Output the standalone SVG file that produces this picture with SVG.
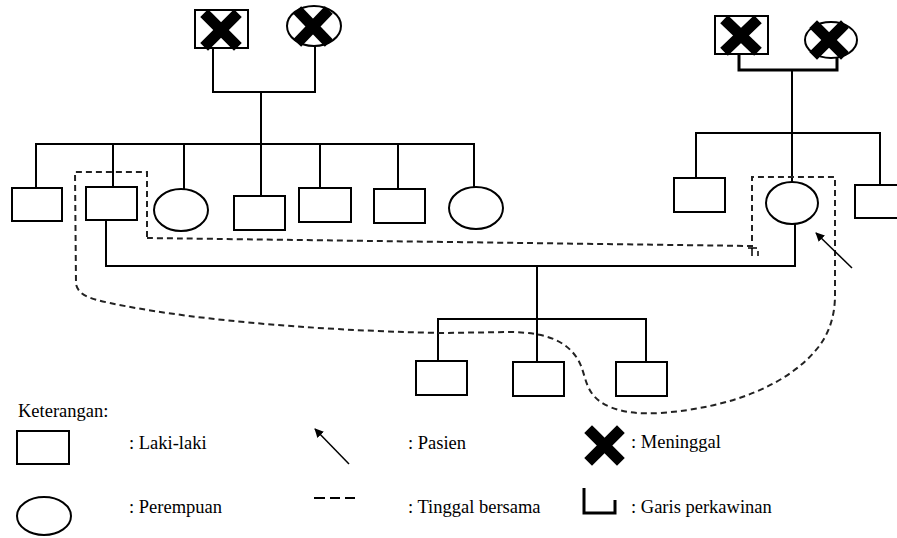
<svg xmlns="http://www.w3.org/2000/svg" width="897" height="538" viewBox="0 0 897 538">
<defs>
<style>
.n{fill:#fff;stroke:#000;stroke-width:2}
.l{fill:none;stroke:#000;stroke-width:2}
.m{fill:none;stroke:#000;stroke-width:3}
.d{fill:none;stroke:#222;stroke-width:2;stroke-dasharray:6 4}
.x{stroke:#000;stroke-width:11;stroke-linecap:square}
.t{font-family:"Liberation Serif","Times New Roman",serif;font-size:18.5px;fill:#000}
</style>
<marker id="ah" viewBox="0 0 10 10" refX="9" refY="5" markerWidth="9" markerHeight="9" markerUnits="userSpaceOnUse" orient="auto">
<path d="M0,0 L10,5 L0,10 z" fill="#000"/>
</marker>
</defs>
<rect width="897" height="538" fill="#fff"/>
<g id="connectors">
<path class="l" d="M213,48 V92 H315 V46 M261,92 V145"/>
<path class="l" d="M36,188 V144 H474 V187 M113,144 V187 M184,144 V189 M261,144 V196 M320,144 V188 M398,144 V189"/>
<path class="m" d="M739,54 V70 H837 V58"/>
<path class="l" d="M792,70 V133 M696,178 V133 H880 V190 M792,133 V182"/>
<path class="l" d="M106,220 V266 H795 V224 M537,266 V365 M438,361 V319 H646 V362"/>
<path class="d" d="M147,238 C300,240 600,244 752,246 V177 H835 V295 C835,310 832,328 820,345 C790,385 730,408 660,413 C640,414 625,413 610,407 C582,395 588,375 577,358 C565,340 545,333 513,332 L440,333 C300,330 180,318 110,303 C90,299 78,295 76,284 L75,172 H147 Z"/>
<path d="M748,248 H757 M752,248 V256 M758,251 V256" fill="none" stroke="#000" stroke-width="1.5"/>
<line x1="852" y1="268" x2="816" y2="233" stroke="#000" stroke-width="1.5" marker-end="url(#ah)"/>
</g>
<g id="gf-left"><rect class="n" x="195" y="10" width="53" height="38"/><line class="x" x1="208" y1="17" x2="234" y2="43"/><line class="x" x1="234" y1="17" x2="208" y2="43"/></g>
<g id="gm-left"><ellipse class="n" cx="314" cy="26" rx="27" ry="20"/><line class="x" x1="301" y1="14" x2="325" y2="39"/><line class="x" x1="325" y1="14" x2="301" y2="39"/></g>
<g id="gf-right"><rect class="n" x="715" y="16" width="53" height="38"/><line class="x" x1="728" y1="23" x2="754" y2="48"/><line class="x" x1="754" y1="23" x2="728" y2="48"/></g>
<g id="gm-right"><ellipse class="n" cx="831" cy="40" rx="26" ry="18"/><line class="x" x1="817" y1="28" x2="841" y2="52"/><line class="x" x1="841" y1="28" x2="817" y2="52"/></g>
<g id="c1"><rect class="n" x="12" y="188" width="50" height="33"/></g>
<g id="c2"><rect class="n" x="86" y="187" width="51" height="33"/></g>
<g id="c3"><ellipse class="n" cx="181" cy="210" rx="27" ry="21"/></g>
<g id="c4"><rect class="n" x="234" y="196" width="51" height="34"/></g>
<g id="c5"><rect class="n" x="299" y="188" width="52" height="34"/></g>
<g id="c6"><rect class="n" x="374" y="189" width="51" height="34"/></g>
<g id="c7"><ellipse class="n" cx="476" cy="208" rx="27" ry="21"/></g>
<g id="r1"><rect class="n" x="674" y="178" width="51" height="34"/></g>
<g id="r2"><ellipse class="n" cx="792" cy="203" rx="26" ry="21"/></g>
<g id="r3"><rect class="n" x="855" y="185" width="50" height="33"/></g>
<g id="g1"><rect class="n" x="416" y="361" width="51" height="34"/></g>
<g id="g2"><rect class="n" x="513" y="362" width="51" height="34"/></g>
<g id="g3"><rect class="n" x="616" y="362" width="51" height="34"/></g>
<g id="legend">
<text class="t" x="18" y="417">Keterangan:</text>
<rect class="n" x="17" y="431" width="52" height="33"/>
<text class="t" x="129" y="449">: Laki-laki</text>
<ellipse class="n" cx="44" cy="516" rx="27" ry="19"/>
<text class="t" x="129" y="513">: Perempuan</text>
<line x1="349" y1="464" x2="315" y2="429" stroke="#000" stroke-width="1.5" marker-end="url(#ah)"/>
<text class="t" x="408" y="449">: Pasien</text>
<path d="M314,498 H325 M330,498 H340 M345,498 H355" stroke="#000" stroke-width="2"/>
<text class="t" x="408" y="513">: Tinggal bersama</text>
<line class="x" x1="592" y1="433" x2="617" y2="458"/><line class="x" x1="617" y1="433" x2="592" y2="458"/>
<text class="t" x="631" y="448">: Meninggal</text>
<path class="m" d="M584,488 V513 H615 V500"/>
<text class="t" x="631" y="513">: Garis perkawinan</text>
</g>
</svg>
